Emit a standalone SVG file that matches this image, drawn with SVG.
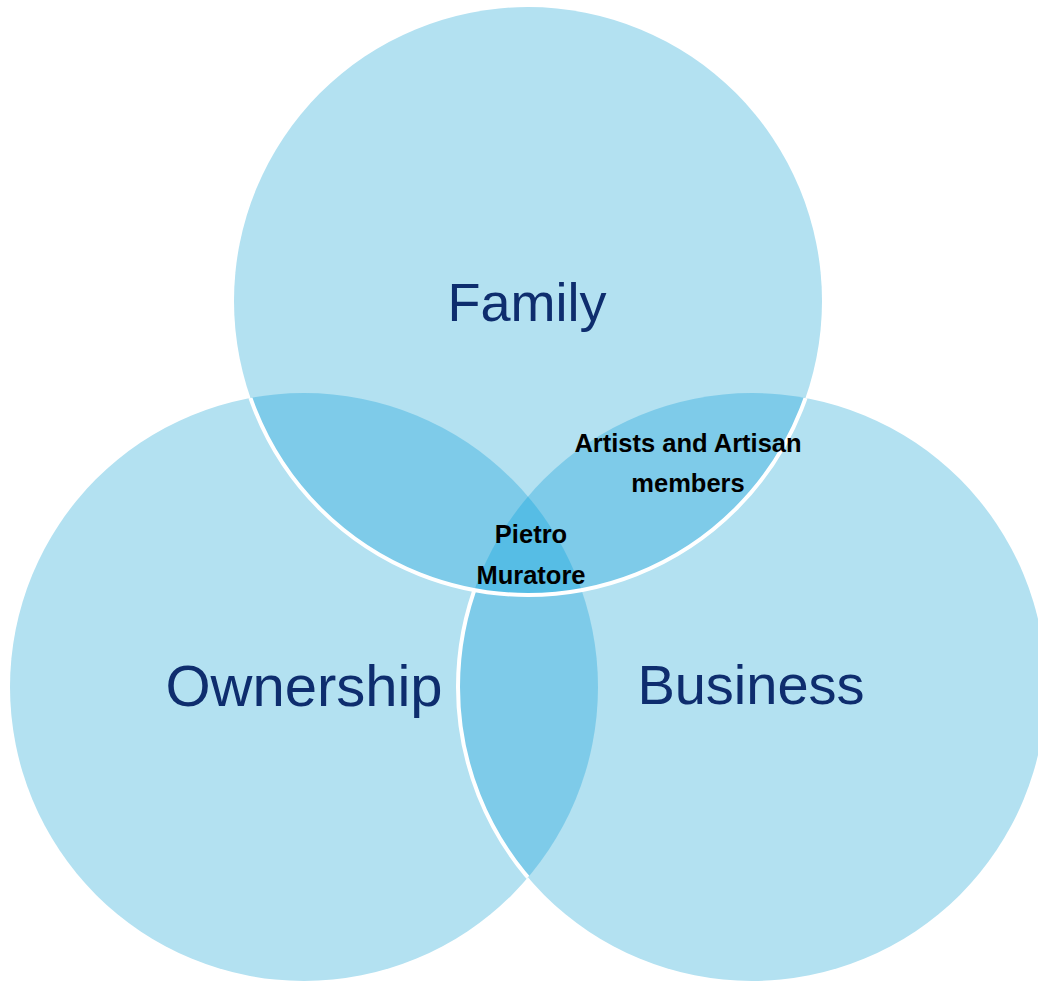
<svg xmlns="http://www.w3.org/2000/svg" width="1038" height="981" viewBox="0 0 1038 981">
  <style>
    .base { fill: #b3e1f1; }
    .pair { fill: #7ecbe9; }
    .triple { fill: #56bde5; }
    .edge { fill: none; stroke: #ffffff; stroke-width: 4; }
    .title { font-family: "Liberation Sans", Arial, sans-serif; fill: #0e2d6e; text-anchor: middle; }
    .note { font-family: "Liberation Sans", Arial, sans-serif; font-weight: bold; font-size: 25.5px; fill: #000000; text-anchor: middle; }
  </style>
  <defs>
    <clipPath id="clipFamily"><circle cx="528" cy="301" r="294"/></clipPath>
    <clipPath id="clipOwnership"><circle cx="304" cy="687" r="294"/></clipPath>
    <clipPath id="clipBusiness"><circle cx="752" cy="687" r="294"/></clipPath>
    <clipPath id="clipLower">
      <circle cx="304" cy="687" r="294"/>
      <circle cx="752" cy="687" r="294"/>
    </clipPath>
  </defs>
  <rect width="1038" height="981" fill="#ffffff"/>

  <!-- lower two circles -->
  <g id="ownership">
    <circle class="base" cx="304" cy="687" r="294"/>
  </g>
  <g id="business">
    <circle class="base" cx="752" cy="687" r="294"/>
    <!-- ownership / business overlap -->
    <g clip-path="url(#clipOwnership)">
      <circle class="pair" cx="752" cy="687" r="294"/>
      <circle class="edge" cx="752" cy="687" r="294"/>
    </g>
  </g>

  <!-- upper circle -->
  <g id="family">
    <circle class="base" cx="528" cy="301" r="294"/>
    <g clip-path="url(#clipFamily)">
      <circle class="pair" cx="304" cy="687" r="294"/>
      <circle class="pair" cx="752" cy="687" r="294"/>
      <g clip-path="url(#clipOwnership)">
        <circle class="triple" cx="752" cy="687" r="294"/>
      </g>
    </g>
    <g clip-path="url(#clipLower)">
      <circle class="edge" cx="528" cy="301" r="294"/>
    </g>
  </g>

  <!-- labels -->
  <g id="labels">
    <text class="title" x="527" y="321" font-size="54">Family</text>
    <text class="title" x="304" y="706" font-size="58">Ownership</text>
    <text class="title" x="751" y="704" font-size="56">Business</text>
    <text class="note" x="688" y="452">Artists and Artisan</text>
    <text class="note" x="688" y="492">members</text>
    <text class="note" x="531" y="543">Pietro</text>
    <text class="note" x="531" y="584">Muratore</text>
  </g>
</svg>
